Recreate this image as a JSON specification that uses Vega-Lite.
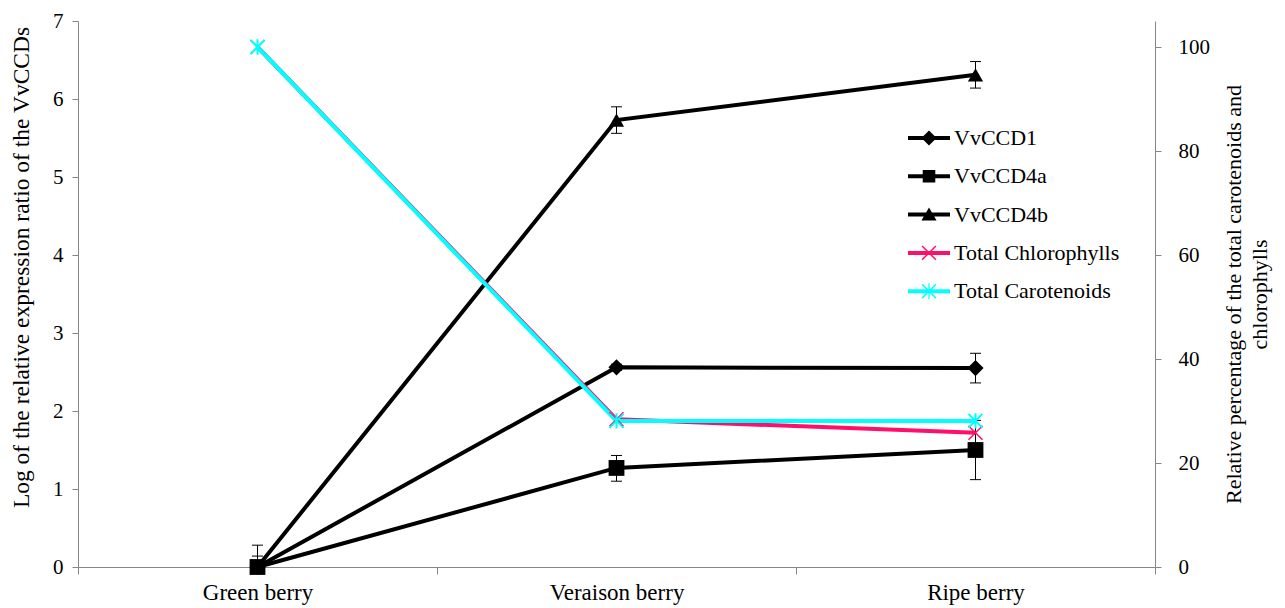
{
  "$schema": "https://vega.github.io/schema/vega-lite/v6.json",
  "width": 1077,
  "height": 546,
  "autosize": {"type": "none"},
  "padding": {"left": 78, "top": 21, "right": 130, "bottom": 41},
  "background": "white",
  "config": {
    "view": {"stroke": null},
    "font": "Liberation Serif",
    "style": {
      "guide-title": {"font": "Liberation Serif"},
      "guide-label": {"font": "Liberation Serif"}
    },
    "axis": {
      "grid": false,
      "domainColor": "#868686",
      "tickColor": "#868686",
      "labelColor": "black",
      "titleColor": "black",
      "labelFont": "Liberation Serif",
      "titleFont": "Liberation Serif",
      "labelFontSize": 21,
      "titleFontSize": 22,
      "titleFontWeight": "normal"
    },
    "legend": {
      "labelFont": "Liberation Serif",
      "titleFont": "Liberation Serif"
    }
  },
  "data": {
    "values": [
      {"stage": "Green berry", "series": "VvCCD1", "v": 0, "lo": 0, "hi": 0.28},
      {"stage": "Veraison berry", "series": "VvCCD1", "v": 2.56, "lo": 2.52, "hi": 2.6},
      {"stage": "Ripe berry", "series": "VvCCD1", "v": 2.55, "lo": 2.36, "hi": 2.74},
      {"stage": "Green berry", "series": "VvCCD4a", "v": 0, "lo": 0, "hi": 0.14},
      {"stage": "Veraison berry", "series": "VvCCD4a", "v": 1.27, "lo": 1.1, "hi": 1.43},
      {"stage": "Ripe berry", "series": "VvCCD4a", "v": 1.5, "lo": 1.12, "hi": 1.88},
      {"stage": "Green berry", "series": "VvCCD4b", "v": 0, "lo": 0, "hi": 0.05},
      {"stage": "Veraison berry", "series": "VvCCD4b", "v": 5.73, "lo": 5.56, "hi": 5.9},
      {"stage": "Ripe berry", "series": "VvCCD4b", "v": 6.31, "lo": 6.14, "hi": 6.48},
      {"stage": "Green berry", "series": "Total Chlorophylls", "p": 100},
      {"stage": "Veraison berry", "series": "Total Chlorophylls", "p": 28.4},
      {"stage": "Ripe berry", "series": "Total Chlorophylls", "p": 25.8},
      {"stage": "Green berry", "series": "Total Carotenoids", "p": 100},
      {"stage": "Veraison berry", "series": "Total Carotenoids", "p": 28.1},
      {"stage": "Ripe berry", "series": "Total Carotenoids", "p": 28.1}
    ]
  },
  "encoding": {
    "x": {
      "field": "stage",
      "type": "nominal",
      "sort": ["Green berry", "Veraison berry", "Ripe berry"],
      "scale": {"type": "band", "paddingInner": 0, "paddingOuter": 0},
      "axis": {"title": null, "tickBand": "extent", "labelAngle": 0, "tickSize": 7, "labelPadding": 7, "labelFontSize": 23, "labelFont": "Liberation Serif"}
    }
  },
  "layer": [
    {
      "encoding": {
        "y": {
          "field": "v",
          "type": "quantitative",
          "title": "Log of the relative expression ratio of the VvCCDs",
          "scale": {"domain": [0, 7], "nice": false},
          "axis": {"orient": "left", "values": [0, 1, 2, 3, 4, 5, 6, 7], "tickSize": 6, "labelPadding": 9, "titlePadding": 19, "titleFontSize": 23.5, "titleY": 246, "titleFont": "Liberation Serif", "labelFont": "Liberation Serif"}
        }
      },
      "layer": [
        {
          "transform": [{"filter": "datum.lo != null"}],
          "mark": {"type": "line", "color": "black", "strokeWidth": 4},
          "encoding": {"detail": {"field": "series"}}
        },
        {
          "transform": [{"filter": "datum.lo != null"}],
          "mark": {"type": "rule", "color": "black", "strokeWidth": 1},
          "encoding": {
            "y": {"field": "lo", "type": "quantitative", "title": "Log of the relative expression ratio of the VvCCDs"},
            "y2": {"field": "hi"}
          }
        },
        {
          "transform": [{"filter": "datum.lo != null"}],
          "mark": {"type": "tick", "orient": "horizontal", "size": 11, "thickness": 1, "color": "black", "opacity": 1},
          "encoding": {"y": {"field": "lo", "type": "quantitative", "title": "Log of the relative expression ratio of the VvCCDs"}}
        },
        {
          "transform": [{"filter": "datum.lo != null"}],
          "mark": {"type": "tick", "orient": "horizontal", "size": 11, "thickness": 1, "color": "black", "opacity": 1},
          "encoding": {"y": {"field": "hi", "type": "quantitative", "title": "Log of the relative expression ratio of the VvCCDs"}}
        },
        {
          "transform": [{"filter": "datum.series === 'VvCCD1'"}],
          "mark": {"type": "point", "shape": "diamond", "filled": true, "size": 260, "color": "black", "opacity": 1}
        },
        {
          "transform": [{"filter": "datum.series === 'VvCCD4a'"}],
          "mark": {"type": "point", "shape": "square", "filled": true, "size": 250, "color": "black", "opacity": 1}
        },
        {
          "transform": [{"filter": "datum.series === 'VvCCD4b'"}],
          "mark": {"type": "point", "shape": "triangle-up", "filled": true, "size": 230, "color": "black", "opacity": 1}
        },
        {
          "transform": [{"filter": "datum.series === 'none'"}],
          "mark": {"type": "point", "filled": true, "opacity": 1},
          "encoding": {
            "color": {
              "field": "series",
              "type": "nominal",
              "scale": {
                "domain": ["VvCCD1", "VvCCD4a", "VvCCD4b", "Total Chlorophylls", "Total Carotenoids"],
                "range": ["black", "black", "black", "#FF0F6A", "#00FFFF"]
              },
              "legend": {
                "orient": "none", "legendX": 830, "legendY": 96, "title": null, "padding": 0,
                "symbolSize": 1764, "symbolStrokeWidth": 0, "symbolOpacity": 1,
                "labelFont": "Liberation Serif", "labelFontSize": 22, "labelColor": "black", "labelLimit": 400,
                "labelOffset": 4, "rowPadding": 6.3
              }
            },
            "shape": {
              "field": "series",
              "type": "nominal",
              "scale": {
                "domain": ["VvCCD1", "VvCCD4a", "VvCCD4b", "Total Chlorophylls", "Total Carotenoids"],
                "range": [
                  "M-1,-0.095H1V0.095H-1Z M0,-0.36L0.36,0L0,0.36L-0.36,0Z",
                  "M-1,-0.095H1V0.095H-1Z M-0.3,-0.3H0.3V0.3H-0.3Z",
                  "M-1,-0.095H1V0.095H-1Z M0,-0.34L0.36,0.28H-0.36Z",
                  "M-1,-0.095H1V0.095H-1Z M-0.305,-0.355L0.355,0.305L0.305,0.355L-0.355,-0.305Z M0.305,-0.355L0.355,-0.305L-0.305,0.355L-0.355,0.305Z",
                  "M-1,-0.095H1V0.095H-1Z M-0.305,-0.355L0.355,0.305L0.305,0.355L-0.355,-0.305Z M0.305,-0.355L0.355,-0.305L-0.305,0.355L-0.355,0.305Z M-0.03,-0.38H0.03V0.38H-0.03Z"
                ]
              },
              "legend": {
                "orient": "none", "legendX": 830, "legendY": 96, "title": null, "padding": 0,
                "symbolSize": 1764, "symbolStrokeWidth": 0, "symbolOpacity": 1,
                "labelFont": "Liberation Serif", "labelFontSize": 22, "labelColor": "black", "labelLimit": 400,
                "labelOffset": 4, "rowPadding": 6.3
              }
            }
          }
        }
      ]
    },
    {
      "encoding": {
        "y": {
          "field": "p",
          "type": "quantitative",
          "title": ["Relative percentage of the total carotenoids and", "chlorophylls"],
          "scale": {"domain": [0, 105], "nice": false},
          "axis": {"orient": "right", "values": [0, 20, 40, 60, 80, 100], "tickSize": 6, "labelPadding": 17, "titleAngle": 270, "titlePadding": 10, "titleLineHeight": 26, "titleFont": "Liberation Serif", "labelFont": "Liberation Serif"}
        }
      },
      "layer": [
        {
          "transform": [{"filter": "datum.series === 'Total Chlorophylls'"}],
          "mark": {"type": "line", "color": "#FF0F6A", "strokeWidth": 4}
        },
        {
          "transform": [{"filter": "datum.series === 'Total Carotenoids'"}],
          "mark": {"type": "line", "color": "#00FFFF", "strokeWidth": 4}
        },
        {
          "transform": [{"filter": "datum.series === 'Total Chlorophylls'"}],
          "mark": {"type": "point", "shape": "M-1,-1L1,1M-1,1L1,-1", "filled": false, "size": 196, "stroke": "#FF0F6A", "strokeWidth": 1.5, "opacity": 1}
        },
        {
          "transform": [{"filter": "datum.series === 'Total Carotenoids'"}],
          "mark": {"type": "point", "shape": "M-1,-1L1,1M-1,1L1,-1M0,-1.1L0,1.1", "filled": false, "size": 196, "stroke": "#00FFFF", "strokeWidth": 2, "opacity": 1}
        }
      ]
    }
  ],
  "resolve": {"scale": {"y": "independent"}}
}
